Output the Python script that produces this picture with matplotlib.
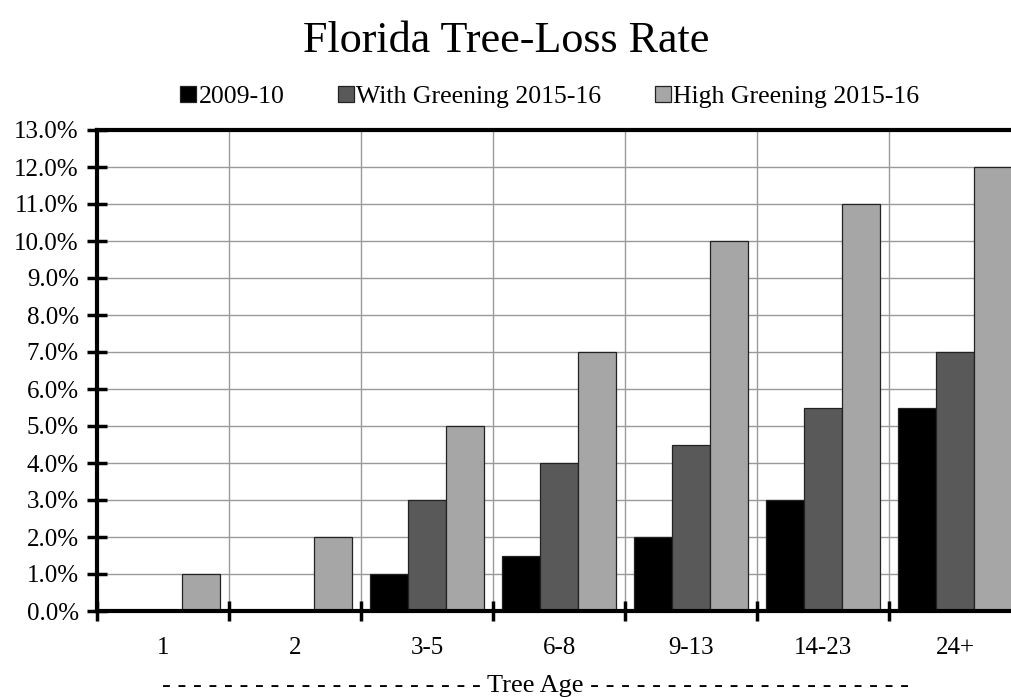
import matplotlib.pyplot as plt
import numpy as np

plt.rcParams['font.family'] = ['Liberation Serif', 'DejaVu Serif']

# tree-loss rates (%) by tree age
ages = ["1", "2", "3-5", "6-8", "9-13", "14-23", "24+"]
rate_2009 = [0.0, 0.0, 1.0, 1.5, 2.0, 3.0, 5.5]
rate_with_greening = [0.0, 0.0, 3.0, 4.0, 4.5, 5.5, 7.0]
rate_high_greening = [1.0, 2.0, 5.0, 7.0, 10.0, 11.0, 12.0]

series = [
    ("2009-10", rate_2009, "#000000"),
    ("With Greening 2015-16", rate_with_greening, "#595959"),
    ("High Greening 2015-16", rate_high_greening, "#a6a6a6"),
]

fig = plt.figure(figsize=(10.12, 6.97), dpi=100)
# plot area runs a little past the right edge of the figure
ax = fig.add_axes([97 / 1012, 1 - 611 / 697, (1021 - 97) / 1012, (611 - 130) / 697])

x = np.arange(len(ages))
w = 0.29
for i, (name, vals, col) in enumerate(series):
    ax.bar(x + (i - 1) * w, vals, w, color=col, edgecolor="#222222",
           linewidth=0.9, label=name, zorder=3)

ax.set_xlim(-0.5, len(ages) - 0.5)
ax.set_ylim(0, 13)
ax.set_yticks(np.arange(0, 14, 1))
ax.set_yticklabels(["%.1f%%" % v for v in np.arange(0, 14, 1)], fontsize=18)

# boundaries between age groups carry the ticks and vertical grid
ax.set_xticks(np.arange(len(ages) + 1) - 0.5)
ax.set_xticklabels([])
ax.set_xticks(x, minor=True)
ax.set_xticklabels(ages, minor=True, fontsize=18)
ax.tick_params(axis="x", which="minor", length=0, pad=19)
ax.tick_params(axis="x", which="major", direction="inout", length=14, width=2.5)
ax.tick_params(axis="y", direction="inout", length=14, width=2.5, pad=6)

ax.grid(True, axis="y", color="#9a9a9a", linewidth=1, zorder=0)
ax.grid(True, axis="x", which="major", color="#9a9a9a", linewidth=1, zorder=0)
ax.set_axisbelow(True)

for s in ["left", "bottom", "top"]:
    ax.spines[s].set_linewidth(3)
    ax.spines[s].set_zorder(4)
ax.spines["right"].set_visible(False)

fig.text(0.5, 1 - 41 / 697, "Florida Tree-Loss Rate", ha="center", va="center",
         fontsize=31.8)

dashes = " ".join(["-"] * 21)
fig.text(536 / 1012, 1 - 686 / 697, dashes + " Tree Age " + dashes,
         ha="center", va="center", fontsize=19)

fig.legend(loc="center", bbox_to_anchor=(550 / 1012, 1 - 97 / 697), ncol=3,
           frameon=False, fontsize=18.5, handlelength=0.6, handleheight=0.6,
           handletextpad=0.1, columnspacing=2.1)

fig.savefig("out.png", dpi=100)
